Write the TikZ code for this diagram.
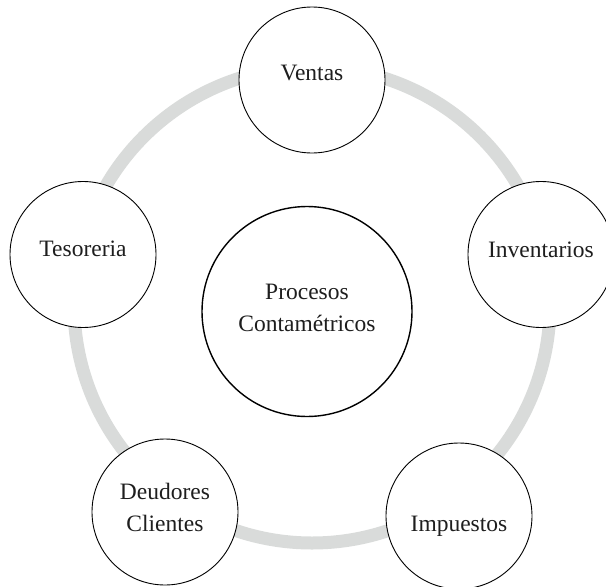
\documentclass[tikz,border=0pt]{standalone}
\usepackage{fontspec}
\setmainfont{Liberation Serif}
\usetikzlibrary{calc}
\definecolor{ringgray}{RGB}{217,219,218}
\definecolor{inkgray}{RGB}{30,30,30}
\tikzset{
  bubble/.style={circle, draw=black, line width=0.9pt, fill=white, minimum size=146pt, inner sep=0pt},
  hub/.style={circle, draw=black, line width=1.4pt, fill=white, minimum size=210pt, inner sep=0pt},
  lbl/.style={anchor=base, inner sep=0pt, text=inkgray, font=\fontsize{23.5}{32}\selectfont, align=center},
  ring/.style={draw=ringgray, line width=13pt}
}
\begin{document}
\begin{tikzpicture}[x=1pt, y=-1pt]
\useasboundingbox (0,0) rectangle (606,587);
\coordinate (ringc) at (312,305);
\draw[ring] (ringc) circle[radius=238pt];
\node[bubble] (ventas) at (312,80) {};
\node[bubble] (inv) at (541,254.5) {};
\node[bubble] (tes) at (83,254.5) {};
\node[bubble] (deu) at (165,512) {};
\node[bubble] (imp) at (459,516) {};
\node[hub] (proc) at (307,311.5) {};
\node[lbl] (ventasT) at ($(ventas.center)+(0,0)$) {Ventas};
\node[lbl] (invT) at ($(inv.center)+(0,2.5)$) {Inventarios};
\node[lbl] (tesT) at ($(tes.center)+(0,2)$) {Tesoreria};
\node[lbl] (impT) at ($(imp.center)+(0,15)$) {Impuestos};
\node[lbl] (procT) at ($(proc.center)+(0,19.5)$) {Procesos\\Contamétricos};
\node[lbl] (deuT) at ($(deu.center)+(0,19)$) {Deudores\\Clientes};
\end{tikzpicture}
\end{document}
